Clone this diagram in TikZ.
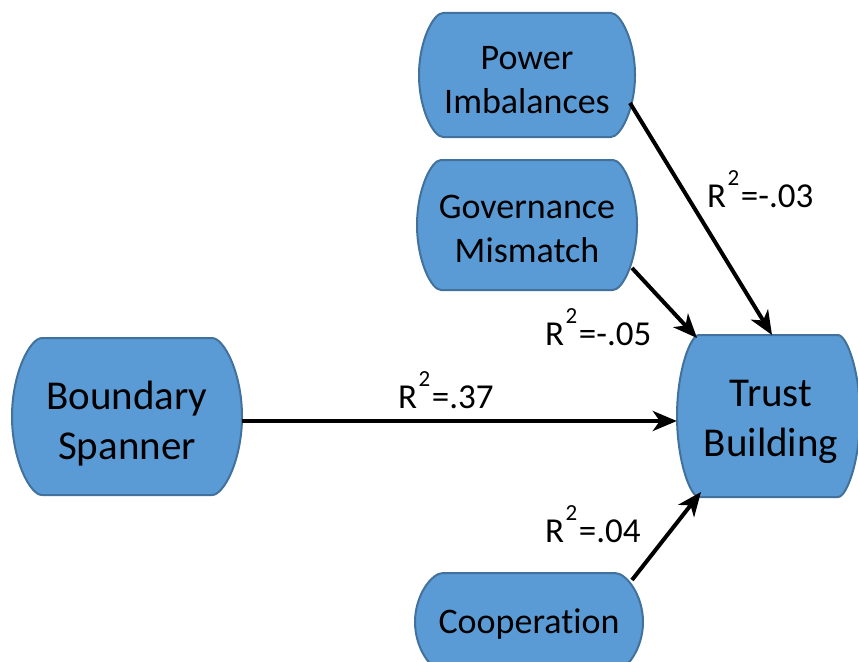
\documentclass[tikz,border=0pt]{standalone}
\usepackage{fontspec}
\setmainfont[Ligatures=NoCommon]{Carlito}
\usetikzlibrary{arrows.meta}
\definecolor{boxfill}{HTML}{5B9BD5}
\definecolor{boxline}{HTML}{41719C}
\newcommand\blobshape[5]{% cx cy hw hh s
  \path[blobpath] (#1-#3+#5,#2-#4) -- (#1+#3-#5,#2-#4)
    .. controls (#1+#3-0.6*#5,#2-#4) and (#1+#3,#2-0.55*#4) .. (#1+#3,#2)
    .. controls (#1+#3,#2+0.55*#4) and (#1+#3-0.6*#5,#2+#4) .. (#1+#3-#5,#2+#4)
    -- (#1-#3+#5,#2+#4)
    .. controls (#1-#3+0.6*#5,#2+#4) and (#1-#3,#2+0.55*#4) .. (#1-#3,#2)
    .. controls (#1-#3,#2-0.55*#4) and (#1-#3+0.6*#5,#2-#4) .. (#1-#3+#5,#2-#4)
    -- cycle;}
\newcommand\rsq[1]{R\kern1.5pt\raisebox{0.62em}{\fontsize{23}{23}\selectfont 2}\kern1.5pt#1}
\begin{document}
\begin{tikzpicture}[x=1pt,y=-1pt,
  blobpath/.style={fill=boxfill,draw=boxline,line width=2pt},
  boxtext/.style={align=center,inner sep=0pt,text=black},
  smalltext/.style={boxtext,font=\fontsize{36}{44}\selectfont},
  bigtext/.style={boxtext,font=\fontsize{41}{50}\selectfont},
  lab/.style={anchor=base west,inner sep=0pt,font=\fontsize{35}{40}\selectfont},
  conn/.style={line width=4pt,-{Stealth[length=24pt,width=20pt,inset=7pt]}}]
\useasboundingbox (0,0) rectangle (858,661);
% shapes
\blobshape{527}{75}{108}{62}{24}
\blobshape{527}{225}{110}{65}{24}
\blobshape{127}{416.5}{115}{78.5}{30}
\blobshape{768.5}{416}{91.5}{81}{22}
\blobshape{529}{622}{114}{49}{28}
% nodes
\node[smalltext,minimum width=216pt,minimum height=124pt] (pi) at (527,80) {Power\\Imbalances};
\node[smalltext,minimum width=220pt,minimum height=130pt] (gm) at (527,229) {Governance\\Mismatch};
\node[bigtext,minimum width=230pt,minimum height=157pt] (bs) at (127,424) {Boundary\\Spanner};
\node[bigtext,minimum width=183pt,minimum height=162pt] (tb) at (771,422) {Trust\\Building};
\node[smalltext,minimum width=228pt,minimum height=98pt] (co) at (529,624) {Cooperation};
% connectors
\draw[conn] ([shift={(103,23)}]pi.center) -- ([shift={(1,-87)}]tb.center);
\draw[conn] ([shift={(105,39)}]gm.center) -- ([shift={(-74,-84)}]tb.center);
\draw[conn] ([yshift=3pt]bs.east) -- ([yshift=1pt,xshift=-2.5pt]tb.west);
\draw[conn] ([shift={(103,-44)}]co.center) -- ([shift={(-70,70)}]tb.center);
% labels
\node[lab] (l1) at (707,207) {\rsq{=-.03}};
\node[lab] (l2) at (545,345) {\rsq{=-.05}};
\node[lab] (l3) at (398,408) {\rsq{=.37}};
\node[lab] (l4) at (545,542) {\rsq{=.04}};
\end{tikzpicture}
\end{document}
